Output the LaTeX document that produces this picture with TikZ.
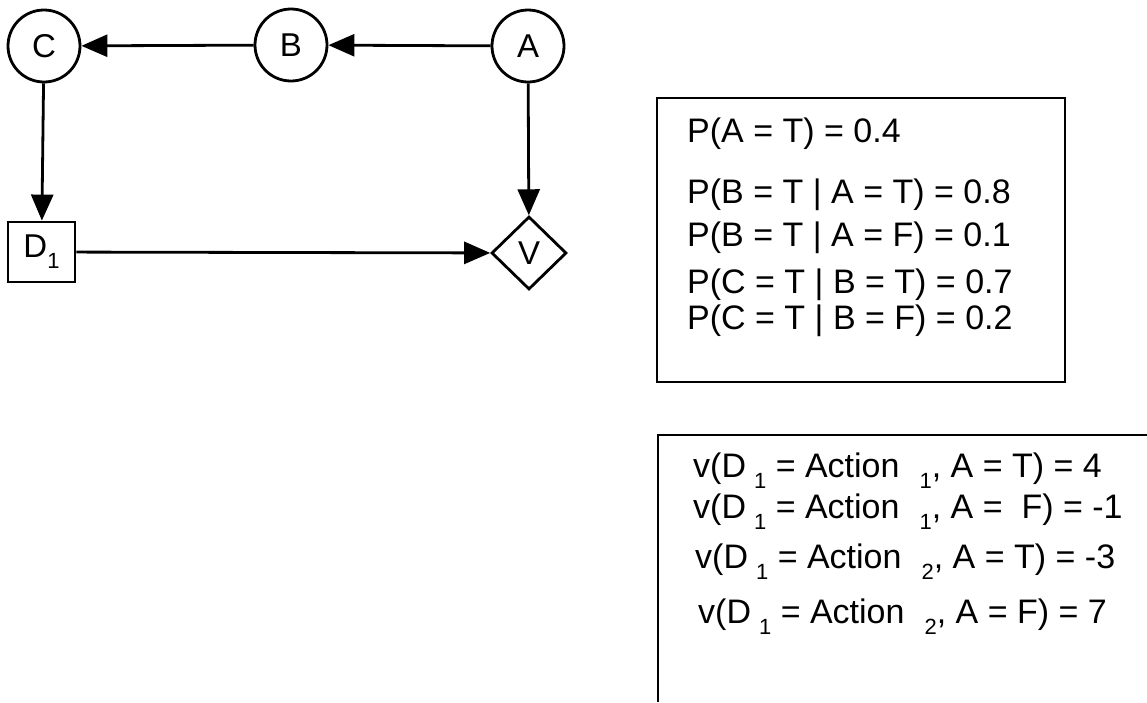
\documentclass[tikz,border=0pt]{standalone}
\usepackage{fontspec}
\setmainfont{Liberation Sans}
\usetikzlibrary{shapes.geometric,arrows.meta}
\newcommand\lo[1]{\raisebox{-0.34em}{\fontsize{22}{22}\selectfont #1}}
\begin{document}
\begin{tikzpicture}[x=1pt,y=-1pt,
  circ/.style={draw,circle,line width=2.8pt,minimum size=72pt,inner sep=0pt,font=\fontsize{33}{33}\selectfont},
  decbox/.style={draw,rectangle,line width=2.8pt,minimum width=67pt,minimum height=60pt,inner sep=0pt,font=\fontsize{33}{33}\selectfont},
  valnode/.style={draw,diamond,line width=2.8pt,minimum width=75pt,minimum height=73pt,inner sep=0pt,font=\fontsize{33}{33}\selectfont},
  arr/.style={line width=2.8pt,-{Triangle[length=26pt,width=22pt]}},
  tab/.style={draw,rectangle,line width=2.8pt,inner sep=0pt},
  row/.style={anchor=base west,inner sep=0pt,font=\fontsize{34}{34}\selectfont}
]
\useasboundingbox (0,0) rectangle (1147,702);
\node[circ] (C) at (44,46) {C};
\node[circ] (B) at (291,45) {B};
\node[circ] (A) at (528,46) {A};
\node[decbox] (D) at (41.5,252) {D\lo{1}};
\node[valnode] (V) at (529,253) {V};
\draw[arr] (A) -- (B);
\draw[arr] (B) -- (C);
\draw[arr] (C) -- (D);
\draw[arr] (A) -- (V);
\draw[arr] (D) -- (V);
% probability table
\node[tab,minimum width=408pt,minimum height=284pt] (T1) at (861,240) {};
\node[row] (p1) at (687,142) {P(A = T) = 0.4};
\node[row] (p2) at (687,203) {P(B = T | A = T) = 0.8};
\node[row] (p3) at (687,246) {P(B = T | A = F) = 0.1};
\node[row] (p4) at (687,293) {P(C = T | B = T) = 0.7};
\node[row] (p5) at (687,329) {P(C = T | B = F) = 0.2};
% value table (cut off at right and bottom)
\draw[line width=2.8pt] (1147,435) -- (658,435) -- (658,702);
\node[row] (v1) at (693,477) {v(D\hspace{8pt}\lo{1} = Action\hspace{20pt}\lo{1}, A = T) = 4};
\node[row] (v2) at (693,518) {v(D\hspace{8pt}\lo{1} = Action\hspace{20pt}\lo{1}, A = \ F) = -1};
\node[row] (v3) at (695,568) {v(D\hspace{8pt}\lo{1} = Action\hspace{20pt}\lo{2}, A = T) = -3};
\node[row] (v4) at (698,623) {v(D\hspace{8pt}\lo{1} = Action\hspace{20pt}\lo{2}, A = F) = 7};
\end{tikzpicture}
\end{document}
